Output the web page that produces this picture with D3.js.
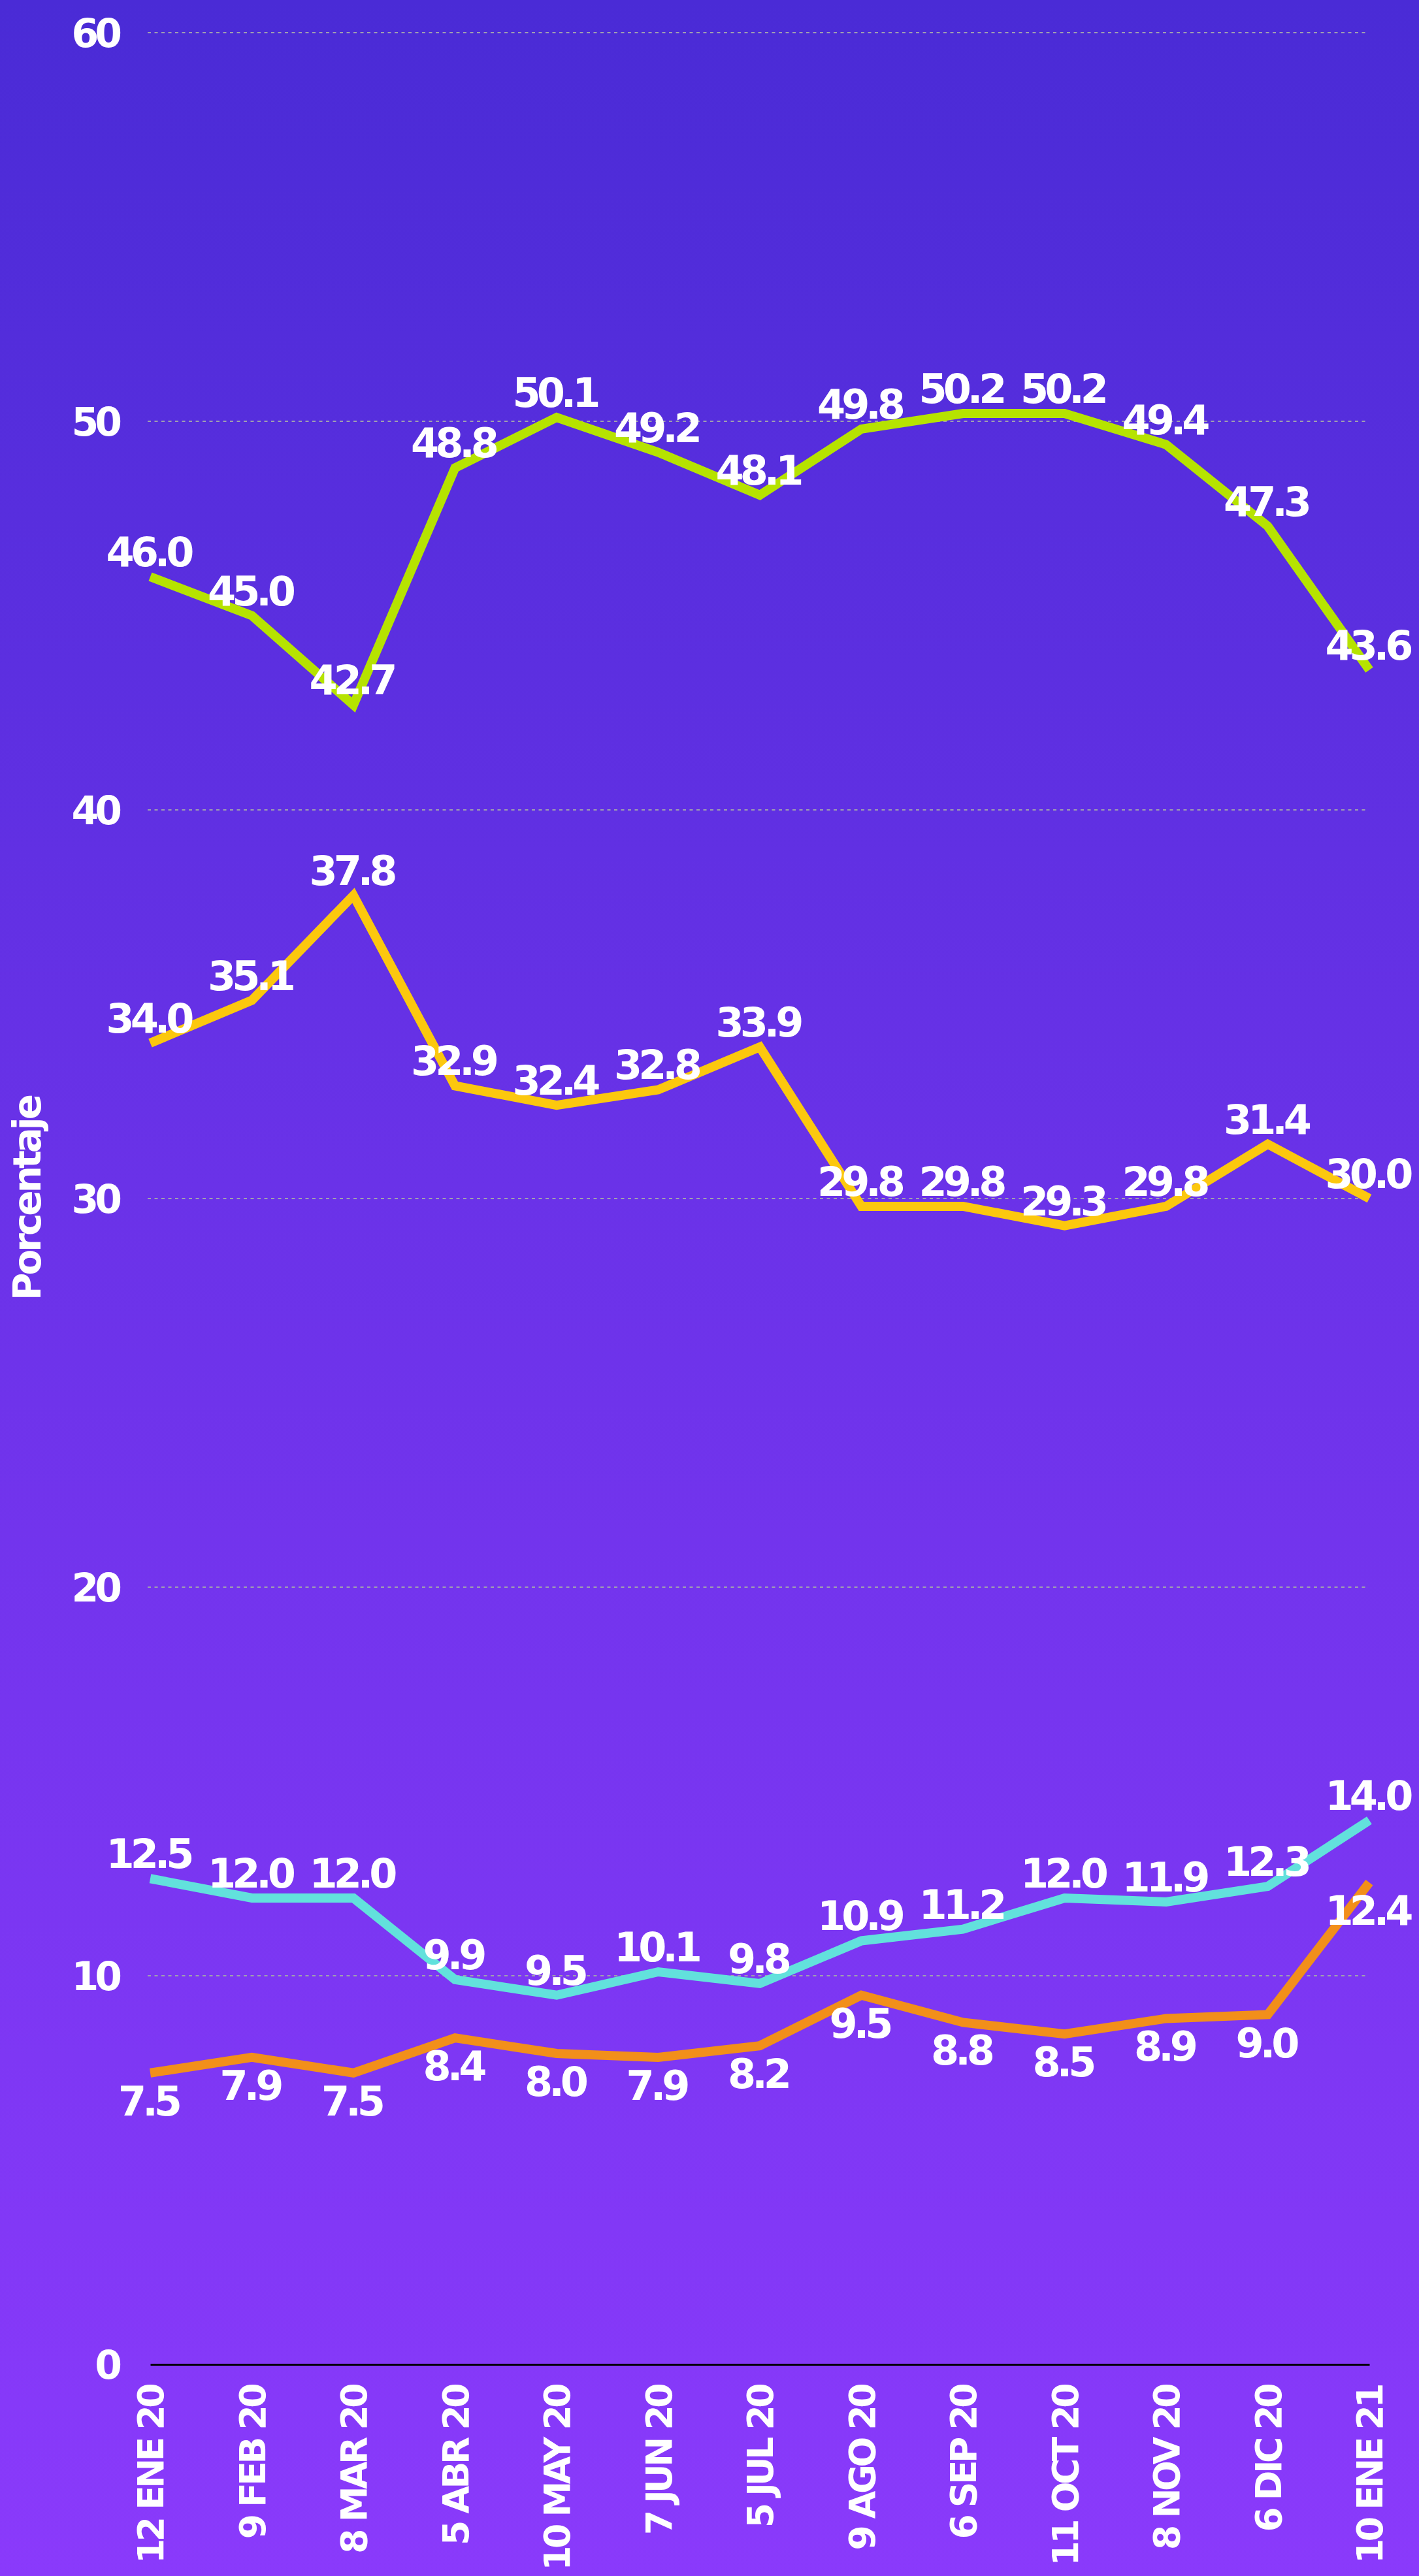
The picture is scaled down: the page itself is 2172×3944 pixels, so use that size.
<!DOCTYPE html>
<html>
<head>
<meta charset="utf-8">
<script src="https://cdn.jsdelivr.net/npm/d3@7"></script>
<style>
  body { margin: 0; padding: 0; }
  svg { display: block; }
</style>
</head>
<body>
<div id="container"></div>
<script>
// fechas de la encuesta
var fechas = ["12 ENE 20", "9 FEB 20", "8 MAR 20", "5 ABR 20", "10 MAY 20", "7 JUN 20", "5 JUL 20",
              "9 AGO 20", "6 SEP 20", "11 OCT 20", "8 NOV 20", "6 DIC 20", "10 ENE 21"];

var serieVerde = [46.0, 45.0, 42.7, 48.8, 50.1, 49.2, 48.1, 49.8, 50.2, 50.2, 49.4, 47.3, 43.6];
var serieAmarilla = [34.0, 35.1, 37.8, 32.9, 32.4, 32.8, 33.9, 29.8, 29.8, 29.3, 29.8, 31.4, 30.0];
var serieCian = [12.5, 12.0, 12.0, 9.9, 9.5, 10.1, 9.8, 10.9, 11.2, 12.0, 11.9, 12.3, 14.0];
var serieNaranja = [7.5, 7.9, 7.5, 8.4, 8.0, 7.9, 8.2, 9.5, 8.8, 8.5, 8.9, 9.0, 12.4];

var yTicks = [0, 10, 20, 30, 40, 50, 60];

var series = [
  { valores: serieVerde, color: "#b6e300", abajo: false },
  { valores: serieAmarilla, color: "#fcc80e", abajo: false },
  { valores: serieCian, color: "#62e1dc", abajo: false },
  { valores: serieNaranja, color: "#f28f1a", abajo: true }
];

var width = 2172, height = 3944;
var margin = { left: 230, right: 76, top: 50, bottom: 324 };
var fuente = "'DejaVu Sans', Verdana, sans-serif";

var svg = d3.select("#container").append("svg")
    .attr("width", width)
    .attr("height", height);

var grad = svg.append("defs").append("linearGradient")
    .attr("id", "fondo")
    .attr("x1", 0).attr("y1", 0).attr("x2", 0).attr("y2", 1);
grad.append("stop").attr("offset", "0%").attr("stop-color", "#4a2bd6");
grad.append("stop").attr("offset", "46%").attr("stop-color", "#6a32e8");
grad.append("stop").attr("offset", "100%").attr("stop-color", "#8a3afb");

svg.append("rect")
    .attr("width", width)
    .attr("height", height)
    .attr("fill", "url(#fondo)");

var x = d3.scalePoint()
    .domain(fechas)
    .range([margin.left, width - margin.right]);

var y = d3.scaleLinear()
    .domain([0, 60])
    .range([height - margin.bottom, margin.top]);

// rejilla
svg.append("g")
  .selectAll("line")
  .data(yTicks.filter(function(d) { return d > 0; }))
  .enter()
  .append("line")
    .attr("x1", margin.left - 4)
    .attr("x2", width - margin.right - 4)
    .attr("y1", function(d) { return y(d); })
    .attr("y2", function(d) { return y(d); })
    .attr("stroke", "#9f9fb0")
    .attr("stroke-width", 2)
    .attr("stroke-dasharray", "5,5.5");

// eje y
var yAxis = svg.append("g")
    .attr("transform", "translate(" + (margin.left - 49) + ",0)")
    .call(d3.axisLeft(y).tickValues(yTicks).tickSize(0).tickPadding(0));
yAxis.select(".domain").remove();
yAxis.selectAll("text")
    .attr("fill", "white")
    .attr("font-family", fuente)
    .attr("font-weight", "bold")
    .attr("font-size", 60)
    .attr("letter-spacing", -6)
    .attr("dy", "0.36em");

svg.append("text")
    .attr("transform", "translate(62," + ((margin.top + height - margin.bottom) / 2) + ") rotate(-90)")
    .attr("text-anchor", "middle")
    .attr("fill", "white")
    .attr("font-family", fuente)
    .attr("font-weight", "bold")
    .attr("font-size", 58)
    .attr("letter-spacing", -4)
    .text("Porcentaje");

// eje x
var xAxis = svg.append("g")
    .attr("transform", "translate(0," + (height - margin.bottom) + ")")
    .call(d3.axisBottom(x).tickSize(0).tickPadding(0));
xAxis.select(".domain")
    .attr("stroke", "black")
    .attr("stroke-width", 3);
xAxis.selectAll("text")
    .attr("fill", "white")
    .attr("font-family", fuente)
    .attr("font-weight", "bold")
    .attr("font-size", 55)
    .attr("letter-spacing", -4.5)
    .attr("text-anchor", "end")
    .attr("dy", "0.36em")
    .attr("transform", "translate(0,33) rotate(-90)");

// lineas
var linea = d3.line()
    .x(function(d, i) { return x(fechas[i]); })
    .y(function(d) { return y(d); });

series.forEach(function(s) {
  svg.append("path")
      .datum(s.valores)
      .attr("d", linea)
      .attr("fill", "none")
      .attr("stroke", s.color)
      .attr("stroke-width", 14)
      .attr("stroke-linejoin", "miter");
});

series.forEach(function(s) {
  svg.append("g")
    .selectAll("text")
    .data(s.valores)
    .enter()
    .append("text")
      .attr("x", function(d, i) { return x(fechas[i]) - 3; })
      .attr("y", function(d) { return s.abajo ? y(d) + 65 : y(d) - 16; })
      .attr("text-anchor", "middle")
      .attr("fill", "white")
      .attr("font-family", fuente)
      .attr("font-weight", "bold")
      .attr("font-size", 62)
      .attr("letter-spacing", -6)
      .text(function(d) { return d.toFixed(1); });
});
</script>
</body>
</html>
